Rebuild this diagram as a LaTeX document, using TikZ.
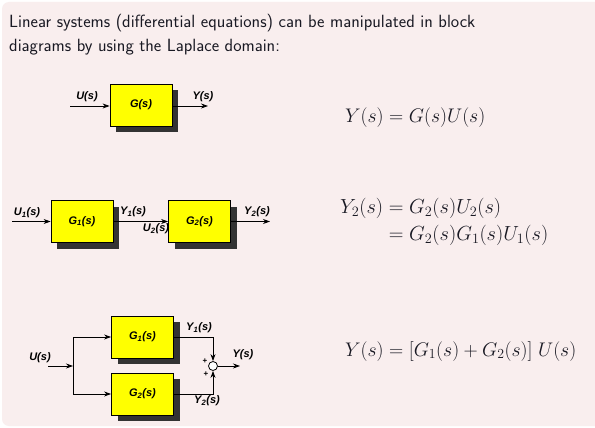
\RequirePackage{fix-cm}
\documentclass[tikz,border=0pt]{standalone}
\usepackage{amsmath}
\usepackage{fontspec}
\newfontfamily\blockfont{Liberation Sans}
\usetikzlibrary{arrows.meta,shadows}
\definecolor{bgpink}{RGB}{249,238,238}
\definecolor{shadowgray}{RGB}{51,51,51}
\definecolor{blockyellow}{RGB}{255,255,0}
\definecolor{textdark}{RGB}{25,25,35}
\newcommand\sbs[1]{\textsubscript{#1}}
\tikzset{
  blk/.style={draw=black, line width=0.8pt, fill=blockyellow, minimum width=62pt, minimum height=42pt, inner sep=0pt,
    font=\blockfont\bfseries\itshape\fontsize{11}{11}\selectfont,
    drop shadow={shadow xshift=6pt, shadow yshift=-6pt, fill=shadowgray, opacity=1}},
  lbl/.style={inner sep=0pt, font=\blockfont\bfseries\itshape\fontsize{11}{11}\selectfont},
  plus/.style={inner sep=0pt, font=\blockfont\bfseries\fontsize{8}{8}\selectfont},
  sig/.style={-{Stealth[length=7pt,width=5pt]}, line width=0.8pt},
  wire/.style={line width=0.8pt},
  title/.style={anchor=base west, inner sep=0pt, text=textdark, font=\sffamily\fontsize{17.7}{24}\selectfont},
  eq/.style={anchor=base west, inner sep=0pt, text=textdark, font=\fontsize{19.7}{24}\selectfont},
  eqb/.style={eq, font=\fontsize{20.4}{24}\selectfont}
}
\begin{document}
\begin{tikzpicture}[x=1pt,y=1pt]
\useasboundingbox (0,0) rectangle (595,-428);
\fill[white] (0,0) rectangle (595,-428);
\fill[bgpink, rounded corners=7pt] (2,-2) rectangle (620,-426);

% title
\node[title] (t1) at (9,-28) {Linear systems (differential equations) can be manipulated in block};
\node[title] (t2) at (9,-52) {diagrams by using the Laplace domain:};

% diagram 1
\node[blk] (g) at (141,-105) {G(s)};
\coordinate (in1) at (70,-106);
\coordinate (out1) at (208,-106);
\draw[sig] (in1) -- (in1 -| g.west);
\draw[sig] (g.east |- out1) -- (out1);
\node[lbl] (lu) at (87,-97) {U(s)};
\node[lbl] (ly) at (203,-97) {Y(s)};

% diagram 2
\node[blk] (g1) at (82,-221.5) {G\sbs{1}(s)};
\node[blk] (g2) at (199.5,-221.5) {G\sbs{2}(s)};
\coordinate (in2) at (12,-221.5);
\coordinate (out2) at (270,-221.5);
\draw[sig] (in2) -- (g1.west);
\draw[sig] (g1.east) -- (g2.west);
\draw[sig] (g2.east) -- (out2);
\node[lbl] (lu1) at (27,-213) {U\sbs{1}(s)};
\node[lbl] (ly1) at (133,-212) {Y\sbs{1}(s)};
\node[lbl] (lu2) at (156,-229) {U\sbs{2}(s)};
\node[lbl] (ly2) at (257,-212) {Y\sbs{2}(s)};

% diagram 3
\node[blk] (h1) at (142.5,-337) {G\sbs{1}(s)};
\node[blk] (h2) at (142.5,-394) {G\sbs{2}(s)};
\coordinate (in3) at (48,-366);
\coordinate (j) at (73,-366);
\coordinate (jt) at (73,-337);
\coordinate (jb) at (73,-394);
\node[circle, draw=black, line width=0.8pt, fill=white, minimum size=9pt, inner sep=0pt] (sum) at (213,-366) {};
\coordinate (out3) at (240,-366);
\draw[sig] (in3) -- (j);
\draw[wire] (jt) -- (jb);
\draw[sig] (jt) -- (h1.west);
\draw[sig] (jb) -- (h2.west);
\draw[sig] (h1.east) -| (sum.north);
\draw[sig] (h2.east) -| (sum.south);
\draw[sig] (sum.east) -- (out3);
\node[lbl] (lu3) at (40,-358) {U(s)};
\node[lbl] (ly31) at (199,-328) {Y\sbs{1}(s)};
\node[lbl] (ly3) at (243,-355) {Y(s)};
\node[lbl] (ly32) at (207,-401) {Y\sbs{2}(s)};
\node[plus] (p1) at (205,-361) {+};
\node[plus] (p2) at (206,-374) {+};

% equations
\node[eq] (e1) at (345,-122) {$Y(s) = G(s)U(s)$};
\node[eqb] (e2a) at (340,-213) {$Y_2(s) = G_2(s)U_2(s)$};
\node[eqb] (e2b) at (340,-240) {$\phantom{Y_2(s)} = G_2(s)G_1(s)U_1(s)$};
\node[eq] (e3) at (345,-356) {$Y(s) = [G_1(s) + G_2(s)]\;U(s)$};
\end{tikzpicture}
\end{document}
